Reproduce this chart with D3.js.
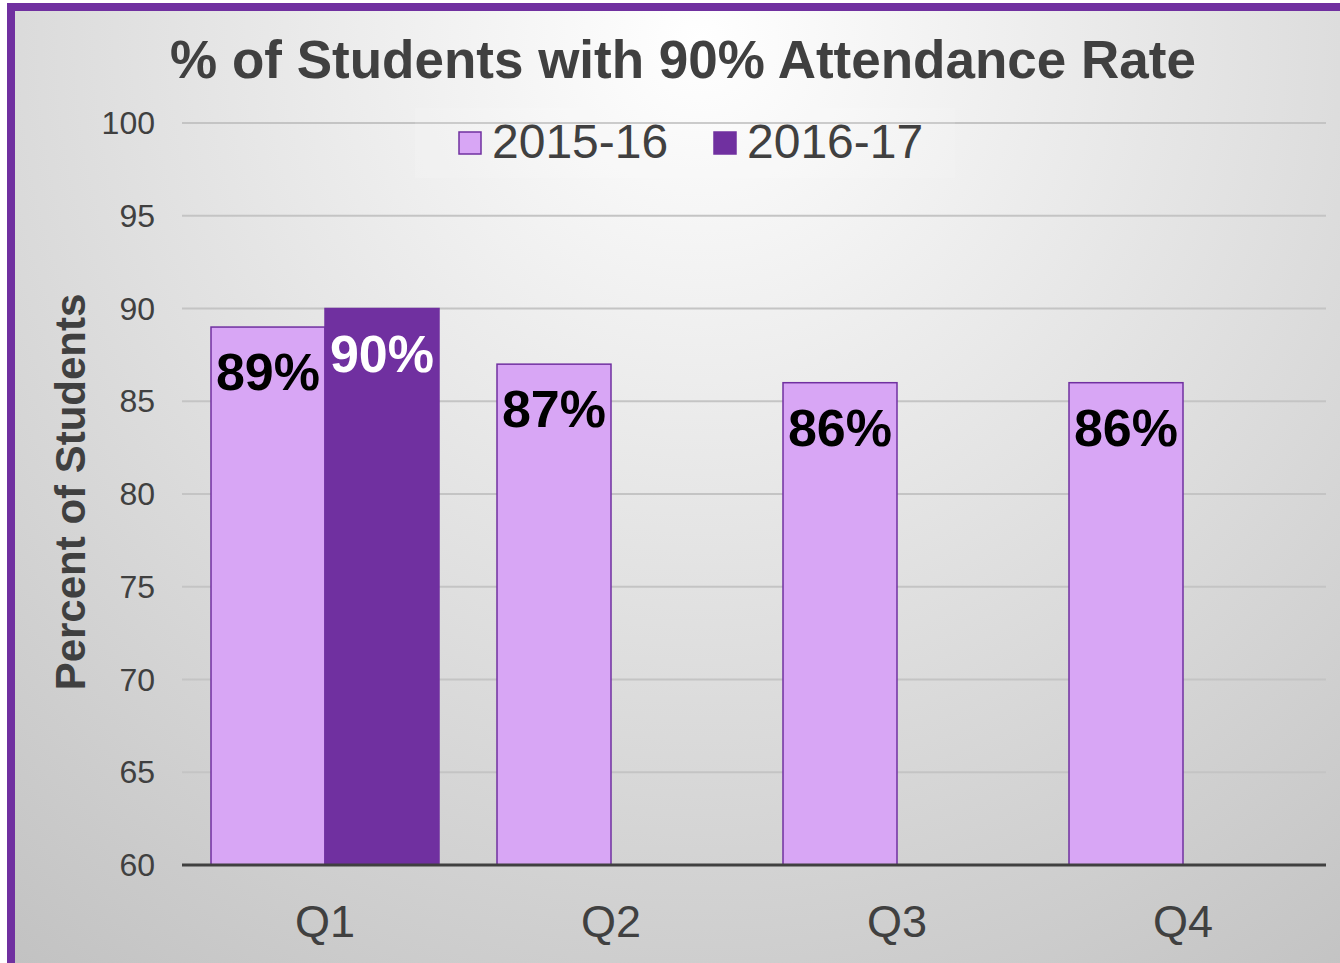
<!DOCTYPE html>
<html>
<head>
<meta charset="utf-8">
<script src="https://cdn.jsdelivr.net/npm/d3@7"></script>
<style>
  body { margin: 0; background: #fff; }
  svg { display: block; font-family: "Liberation Sans", Arial, sans-serif; }
</style>
</head>
<body>
<svg width="1340" height="963"></svg>
<script>
var quarters = ["Q1", "Q2", "Q3", "Q4"];
var seriesNames = ["2015-16", "2016-17"];
var values1516 = [89, 87, 86, 86];
var values1617 = [90, null, null, null];
var yTicks = [60, 65, 70, 75, 80, 85, 90, 95, 100];
var colors = ["#d8a6f5", "#7030a0"];
var labelColors = ["#000", "#fff"];

var svg = d3.select("svg");
var defs = svg.append("defs");
var grad = defs.append("radialGradient")
  .attr("id", "bg").attr("gradientUnits", "userSpaceOnUse")
  .attr("cx", 700).attr("cy", 40).attr("r", 1150);
grad.append("stop").attr("offset", "0").attr("stop-color", "#ffffff");
grad.append("stop").attr("offset", "1").attr("stop-color", "#c2c2c2");

// frame
svg.append("rect")
  .attr("x", 11).attr("y", 7).attr("width", 1400).attr("height", 1000)
  .attr("fill", "url(#bg)")
  .attr("stroke", "#7030a0").attr("stroke-width", 8);

var x0 = d3.scaleBand().domain(quarters).range([182, 1326]);
var x1 = d3.scaleBand().domain(seriesNames).range([29, 257]);
var y = d3.scaleLinear().domain([60, 100]).range([865, 123]);

// gridlines
svg.append("g").selectAll("line")
  .data(yTicks.slice(1))
  .enter().append("line")
  .attr("x1", 182).attr("x2", 1326)
  .attr("y1", function(d) { return y(d); })
  .attr("y2", function(d) { return y(d); })
  .attr("stroke", "#c4c4c4").attr("stroke-width", 2);

// y tick labels
svg.append("g").selectAll("text")
  .data(yTicks)
  .enter().append("text")
  .attr("x", 155)
  .attr("y", function(d) { return y(d) + 11; })
  .attr("text-anchor", "end")
  .attr("font-size", 32)
  .attr("fill", "#404040")
  .text(function(d) { return d; });

// legend
svg.append("rect")
  .attr("x", 415).attr("y", 108).attr("width", 540).attr("height", 70)
  .attr("fill", "#fff").attr("opacity", 0.12);
var legend = svg.append("g").selectAll("g")
  .data(seriesNames)
  .enter().append("g")
  .attr("transform", function(d, i) { return "translate(" + (458 + i * 255) + ",0)"; });
legend.append("rect")
  .attr("x", 1).attr("y", 132).attr("width", 22).attr("height", 22)
  .attr("fill", function(d, i) { return colors[i]; })
  .attr("stroke", "#7030a0").attr("stroke-width", 1.5);
legend.append("text")
  .attr("x", 34).attr("y", 158)
  .attr("font-size", 48)
  .attr("fill", "#404040")
  .text(function(d) { return d; });

// bars
var rows = [];
quarters.forEach(function(q, i) {
  [values1516[i], values1617[i]].forEach(function(v, s) {
    if (v != null) rows.push({ q: q, s: s, name: seriesNames[s], v: v });
  });
});

var bars = svg.append("g").selectAll("g")
  .data(rows)
  .enter().append("g");
bars.append("rect")
  .attr("x", function(d) { return x0(d.q) + x1(d.name); })
  .attr("y", function(d) { return y(d.v); })
  .attr("width", x1.bandwidth())
  .attr("height", function(d) { return y(60) - y(d.v); })
  .attr("fill", function(d) { return colors[d.s]; })
  .attr("stroke", "#7030a0").attr("stroke-width", 1.5);
bars.append("text")
  .attr("x", function(d) { return x0(d.q) + x1(d.name) + x1.bandwidth() / 2; })
  .attr("y", function(d) { return y(d.v) + 63; })
  .attr("text-anchor", "middle")
  .attr("font-size", 52).attr("font-weight", "bold")
  .attr("fill", function(d) { return labelColors[d.s]; })
  .text(function(d) { return d.v + "%"; });

// x axis
svg.append("line")
  .attr("x1", 182).attr("x2", 1326)
  .attr("y1", 865).attr("y2", 865)
  .attr("stroke", "#404040").attr("stroke-width", 3);
svg.append("g").selectAll("text")
  .data(quarters)
  .enter().append("text")
  .attr("x", function(d) { return x0(d) + x0.bandwidth() / 2; })
  .attr("y", 937)
  .attr("text-anchor", "middle")
  .attr("font-size", 45)
  .attr("fill", "#404040")
  .text(function(d) { return d; });

// titles
svg.append("text")
  .attr("x", 683).attr("y", 78)
  .attr("text-anchor", "middle")
  .attr("font-size", 53).attr("font-weight", "bold")
  .attr("fill", "#404040")
  .text("% of Students with 90% Attendance Rate");
svg.append("text")
  .attr("transform", "translate(85,492) rotate(-90)")
  .attr("text-anchor", "middle")
  .attr("font-size", 42).attr("font-weight", "bold")
  .attr("fill", "#404040")
  .text("Percent of Students");
</script>
</body>
</html>
